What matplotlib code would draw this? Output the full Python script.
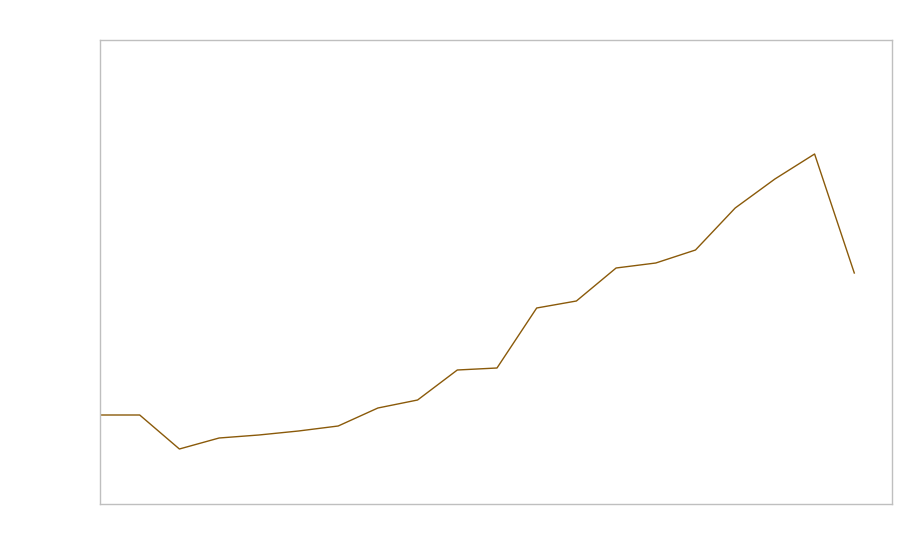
import matplotlib
matplotlib.use("Agg")
import matplotlib.pyplot as plt

# positions along x and the series values
x = list(range(20))
values = [89, 89, 55, 66, 69, 73, 78, 96, 104, 134, 136, 196, 203, 236, 241, 254, 296, 325, 350, 231]

fig = plt.figure(figsize=(9, 5.6), dpi=100)
ax = fig.add_axes([100/900, 1-504/560, 792/900, 464/560])
ax.plot(x, values, color="#8a5a0a", linewidth=1)
ax.set_xlim(0, 19.95)
ax.set_ylim(0, 464)
ax.set_xticks([])
ax.set_yticks([])
for s in ax.spines.values():
    s.set_color("#bfbfbf")
    s.set_linewidth(1)
fig.savefig("out.png", dpi=100)
